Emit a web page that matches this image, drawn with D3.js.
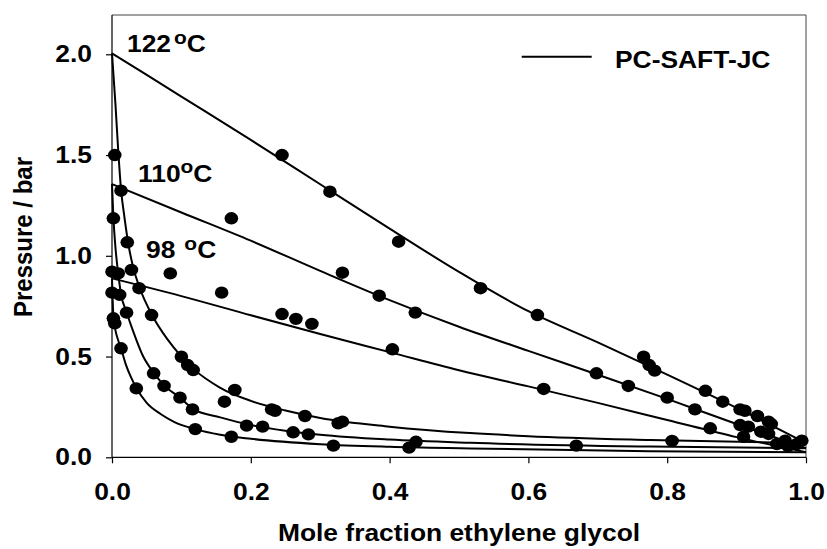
<!DOCTYPE html>
<html>
<head>
<meta charset="utf-8">
<script src="https://cdn.jsdelivr.net/npm/d3@7"></script>
<style>
  html, body { margin: 0; padding: 0; background: #fff; }
  svg { display: block; }
  text { font-family: "Liberation Sans", Arial, sans-serif; font-weight: bold; fill: #000; }
</style>
</head>
<body>
<svg id="chart" width="827" height="549"></svg>
<script>
// ---------------- data ----------------
const xTicks = [0, 0.2, 0.4, 0.6, 0.8, 1.0];
const yTicks = [0, 0.5, 1.0, 1.5, 2.0];
const xTitle = "Mole fraction ethylene glycol";
const yTitle = "Pressure / bar";
const legendLabel = "PC-SAFT-JC";
const temps = ["122", "110", "98"];

// measured points [x, P]
const exp122 = [[0.004,1.50],[0.245,1.50],[0.013,1.323],[0.314,1.318],[0.022,1.067],[0.413,1.07],
  [0.028,0.93],[0.039,0.839],[0.531,0.839],[0.057,0.706],[0.613,0.706],[0.100,0.499],[0.766,0.499],
  [0.109,0.458],[0.774,0.458],[0.117,0.433],[0.782,0.43],[0.177,0.334],[0.855,0.33],[0.162,0.276],
  [0.880,0.276],[0.230,0.238],[0.905,0.238],[0.235,0.231],[0.912,0.231],[0.278,0.205],[0.930,0.205],
  [0.332,0.177],[0.946,0.177],[0.326,0.169],[0.950,0.165],[0.807,0.081],[0.994,0.083],[0.970,0.083]];
const exp110 = [[0.002,1.186],[0.172,1.186],[0.332,0.916],[0.011,0.806],[0.385,0.802],[0.021,0.718],
  [0.437,0.718],[0.060,0.417],[0.698,0.417],[0.075,0.354],[0.744,0.354],[0.098,0.296],[0.800,0.296],
  [0.116,0.238],[0.840,0.238],[0.194,0.157],[0.905,0.160],[0.217,0.152],[0.917,0.152],[0.261,0.124],
  [0.935,0.127],[0.283,0.114],[0.946,0.116],[0.438,0.077],[0.669,0.058],[0.958,0.066],[0.987,0.066]];
const exp98 = [[0.0,0.921],[0.009,0.913],[0.084,0.913],[0.0,0.817],[0.158,0.817],[0.002,0.69],
  [0.004,0.665],[0.245,0.711],[0.265,0.687],[0.288,0.662],[0.013,0.541],[0.404,0.536],[0.035,0.342],
  [0.622,0.339],[0.120,0.140],[0.862,0.144],[0.172,0.102],[0.910,0.102],[0.319,0.058],[0.428,0.048],
  [0.974,0.056]];

// PC-SAFT-JC model curves [x, P]
const bubble122 = [[0,2.005],[0.1,1.79],[0.2,1.575],[0.3,1.355],[0.4,1.135],[0.5,0.92],[0.6,0.725],
  [0.7,0.57],[0.8,0.41],[0.9,0.245],[1.0,0.07]];
const dew122 = [[0,2.005],[0.005,1.75],[0.009,1.52],[0.013,1.33],[0.018,1.19],[0.024,1.05],[0.03,0.95],
  [0.04,0.84],[0.057,0.71],[0.08,0.585],[0.1,0.50],[0.117,0.44],[0.156,0.345],[0.2,0.28],[0.25,0.232],
  [0.3,0.195],[0.4,0.152],[0.516,0.12],[0.6,0.105],[0.775,0.086],[1.0,0.07]];
const bubble110 = [[0,1.356],[0.1,1.215],[0.2,1.075],[0.3,0.925],[0.4,0.78],[0.5,0.648],[0.6,0.528],
  [0.7,0.41],[0.8,0.29],[0.9,0.165],[1.0,0.045]];
const dew110 = [[0,1.356],[0.002,1.19],[0.005,1.04],[0.009,0.91],[0.013,0.81],[0.021,0.72],[0.03,0.63],
  [0.045,0.50],[0.06,0.42],[0.075,0.357],[0.098,0.296],[0.116,0.242],[0.156,0.198],[0.2,0.16],
  [0.25,0.132],[0.3,0.112],[0.4,0.088],[0.516,0.072],[0.775,0.053],[1.0,0.045]];
const bubble98 = [[0,0.888],[0.1,0.80],[0.2,0.705],[0.3,0.612],[0.4,0.522],[0.5,0.432],[0.6,0.352],
  [0.7,0.27],[0.8,0.185],[0.9,0.10],[1.0,0.025]];
const dew98 = [[0,0.888],[0.002,0.70],[0.005,0.63],[0.009,0.58],[0.013,0.54],[0.02,0.46],[0.027,0.40],
  [0.035,0.345],[0.05,0.27],[0.07,0.215],[0.09,0.175],[0.12,0.14],[0.156,0.112],[0.2,0.092],
  [0.3,0.065],[0.4,0.052],[0.516,0.044],[0.775,0.030],[1.0,0.025]];

// ---------------- layout ----------------
const SX = 1.1; // horizontal text stretch of the original figure
const svg = d3.select("#chart");
const L = 112, R = 806, T = 15, B = 457.3;
const x = d3.scaleLinear().domain([0, 1]).range([L, R]);
const y = d3.scaleLinear().domain([0, 2.195]).range([B, T]);

// frame (top/right)
svg.append("path")
  .attr("d", `M${L},${T}H${R}V${B}`)
  .attr("fill", "none").attr("stroke", "#444").attr("stroke-width", 1);

// axes
const yAxis = d3.axisLeft(y).tickValues(yTicks).tickFormat(d3.format(".1f")).tickSize(6).tickPadding(12.2);
const xAxis = d3.axisBottom(x).tickValues(xTicks).tickFormat(d3.format(".1f")).tickSize(6).tickPadding(20);
const gy = svg.append("g").attr("transform", `translate(${L},0)`).call(yAxis);
const gx = svg.append("g").attr("transform", `translate(0,${B})`).call(xAxis);
[gx, gy].forEach(g => {
  g.select(".domain").attr("stroke", "#000").attr("stroke-width", 1.2);
  g.selectAll(".tick line").attr("stroke", "#000").attr("stroke-width", 1.2);
  g.selectAll(".tick text").attr("font-size", 24).attr("font-weight", "bold")
    .attr("font-family", '"Liberation Sans", Arial, sans-serif').attr("fill", "#000")
    .attr("transform", `scale(${SX},1)`);
});
gy.selectAll(".tick text").attr("x", -18.2);
gx.select(".domain").attr("d", `M${L},0H${R}`);
gy.select(".domain").attr("d", `M0,${B}V${T}`);

// titles
svg.append("text").text(xTitle)
  .attr("font-size", 24).attr("text-anchor", "middle")
  .attr("transform", `translate(${(L + R) / 2},541) scale(${SX},1)`);
svg.append("text").text(yTitle)
  .attr("font-size", 24).attr("text-anchor", "middle")
  .attr("transform", `translate(32,237) scale(${SX},1) rotate(-90)`);

// model curves
const line = d3.line().x(d => x(d[0])).y(d => y(d[1])).curve(d3.curveMonotoneX);
const curves = [bubble122, dew122, bubble110, dew110, bubble98, dew98];
svg.append("g").selectAll("path").data(curves).join("path")
  .attr("d", line).attr("fill", "none").attr("stroke", "#000").attr("stroke-width", 2);

// experimental points
const allPts = [].concat(exp122, exp110, exp98);
svg.append("g").selectAll("ellipse").data(allPts).join("ellipse")
  .attr("cx", d => x(d[0])).attr("cy", d => y(d[1]))
  .attr("rx", 6.8).attr("ry", 6.2).attr("fill", "#000");

// temperature labels
const labelPos = { "122": [127, 52, 3], "110": [138, 181.7, 0], "98": [146, 258.3, 9] };
temps.forEach(t => {
  const [lx, ly, gap] = labelPos[t];
  const tx = svg.append("text").attr("transform", `translate(${lx},${ly}) scale(${SX},1)`).attr("font-size", 24);
  tx.append("tspan").text(t);
  tx.append("tspan").text("o").attr("font-size", 19).attr("dy", -8.5).attr("dx", gap / SX);
  tx.append("tspan").text("C").attr("dy", 8.5);
});

// legend
svg.append("line").attr("x1", 521.7).attr("x2", 591.7).attr("y1", 56.7).attr("y2", 56.7)
  .attr("stroke", "#000").attr("stroke-width", 2);
svg.append("text").text(legendLabel).attr("font-size", 24)
  .attr("transform", `translate(615,68.3) scale(${SX},1)`);
</script>
</body>
</html>
